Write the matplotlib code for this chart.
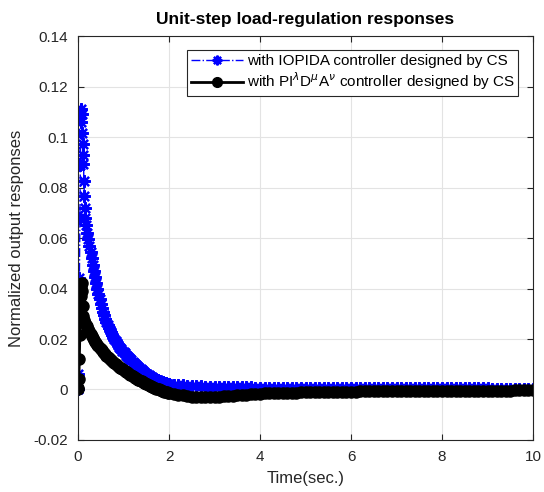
import matplotlib
matplotlib.use('Agg')
import matplotlib.pyplot as plt
import numpy as np

plt.rcParams['font.family'] = ['Liberation Sans', 'DejaVu Sans']
plt.rcParams['mathtext.fontset'] = 'dejavusans'

# ---- IOPIDA response (blue) ----
t_blue_spike = [0, 0.01, 0.02, 0.03, 0.04, 0.05, 0.06, 0.07, 0.08, 0.09,
                0.10, 0.11, 0.12, 0.13, 0.14, 0.15, 0.16, 0.175]
y_blue_spike = [0, 0.0063, 0.022, 0.044, 0.068, 0.089, 0.106, 0.111, 0.109, 0.1017,
                0.0972, 0.0927, 0.0893, 0.0826, 0.0766, 0.0719, 0.068, 0.065]

# samples every 0.025 s from 0.2 to 2.0
y_blue_decay = [0.0620, 0.0595, 0.0570, 0.0545, 0.0520, 0.0494, 0.0469, 0.0444,
                0.0420, 0.0398, 0.0378, 0.0358, 0.0340, 0.0324, 0.0308, 0.0294,
                0.0280, 0.0268, 0.0256, 0.0245, 0.0235, 0.0226, 0.0217, 0.0208,
                0.0200, 0.0192, 0.0184, 0.0177, 0.0170, 0.0164, 0.0159, 0.0153,
                0.0148, 0.0143, 0.0138, 0.0133, 0.0128, 0.0124, 0.0119, 0.0115,
                0.0110, 0.0105, 0.0101, 0.0096, 0.0092, 0.0088, 0.0084, 0.0081,
                0.0077, 0.0073, 0.0070, 0.0066, 0.0063, 0.0060, 0.0057, 0.0054,
                0.0051, 0.0048, 0.0046, 0.0043, 0.0041, 0.0039, 0.0037, 0.0035,
                0.0033, 0.0031, 0.0029, 0.0028, 0.0026, 0.0025, 0.0023, 0.0022,
                0.0020]

# samples every 0.1 s from 2.1 to 10
y_blue_tail = [0.0018, 0.0017, 0.0016, 0.0015, 0.0014, 0.0013, 0.0012, 0.0011, 0.0011, 0.0010,
               0.0010, 0.0009, 0.0009, 0.0009, 0.0008, 0.0008, 0.0008, 0.0008, 0.0007, 0.0007,
               0.0007, 0.0007, 0.0007, 0.0007, 0.0007, 0.0006, 0.0006, 0.0006, 0.0006, 0.0006,
               0.0006, 0.0006, 0.0006, 0.0006, 0.0006, 0.0005, 0.0005, 0.0005, 0.0005, 0.0005,
               0.0005, 0.0005, 0.0005, 0.0005, 0.0005, 0.0005, 0.0005, 0.0005, 0.0005, 0.0005,
               0.0004, 0.0004, 0.0004, 0.0004, 0.0004, 0.0004, 0.0004, 0.0004, 0.0004, 0.0004,
               0.0004, 0.0004, 0.0004, 0.0004, 0.0004, 0.0004, 0.0004, 0.0004, 0.0004, 0.0004,
               0.0003, 0.0003, 0.0003, 0.0003, 0.0003, 0.0003, 0.0003, 0.0003, 0.0003, 0.0003]

# ---- PI^lambda D^mu A^nu response (black) ----
t_black_spike = [0, 0.01, 0.02, 0.03, 0.04, 0.05, 0.06, 0.07, 0.08, 0.09,
                 0.10, 0.12, 0.14, 0.16, 0.18]
y_black_spike = [0, 0.0007, 0.0041, 0.0120, 0.0214, 0.0306, 0.0370, 0.0405, 0.0420, 0.0390,
                 0.0330, 0.0290, 0.0275, 0.0265, 0.0257]

y_black_decay = [0.0250, 0.0240, 0.0230, 0.0221, 0.0212, 0.0204, 0.0197, 0.0190,
                 0.0183, 0.0177, 0.0171, 0.0165, 0.0160, 0.0155, 0.0150, 0.0144,
                 0.0139, 0.0134, 0.0129, 0.0125, 0.0120, 0.0116, 0.0112, 0.0108,
                 0.0104, 0.0100, 0.0097, 0.0093, 0.0090, 0.0087, 0.0084, 0.0080,
                 0.0077, 0.0074, 0.0071, 0.0068, 0.0065, 0.0062, 0.0059, 0.0056,
                 0.0053, 0.0050, 0.0047, 0.0045, 0.0042, 0.0039, 0.0037, 0.0034,
                 0.0032, 0.0029, 0.0027, 0.0024, 0.0022, 0.0020, 0.0017, 0.0015,
                 0.0013, 0.0011, 0.0009, 0.0007, 0.0005, 0.0003, 0.0001, 0.0000,
                 -0.0002, -0.0003, -0.0005, -0.0006, -0.0008, -0.0009, -0.0010, -0.0012,
                 -0.0013]

y_black_tail = [-0.0016, -0.0020, -0.0023, -0.0026, -0.0028, -0.0029, -0.0030, -0.0030, -0.0030, -0.0029,
                -0.0028, -0.0027, -0.0026, -0.0025, -0.0023, -0.0022, -0.0021, -0.0019, -0.0018, -0.0016,
                -0.0015, -0.0015, -0.0014, -0.0014, -0.0013, -0.0013, -0.0012, -0.0012, -0.0011, -0.0011,
                -0.0011, -0.0010, -0.0010, -0.0010, -0.0009, -0.0009, -0.0009, -0.0008, -0.0008, -0.0008,
                -0.0008, -0.0007, -0.0007, -0.0007, -0.0007, -0.0007, -0.0006, -0.0006, -0.0006, -0.0006,
                -0.0006, -0.0006, -0.0006, -0.0006, -0.0006, -0.0005, -0.0005, -0.0005, -0.0005, -0.0005,
                -0.0005, -0.0005, -0.0005, -0.0005, -0.0005, -0.0004, -0.0004, -0.0004, -0.0004, -0.0004,
                -0.0004, -0.0004, -0.0004, -0.0004, -0.0004, -0.0003, -0.0003, -0.0003, -0.0003, -0.0003]

x_ticks = [0, 2, 4, 6, 8, 10]
y_ticks = [-0.02, 0, 0.02, 0.04, 0.06, 0.08, 0.1, 0.12, 0.14]
y_tick_labels = ['-0.02', '0', '0.02', '0.04', '0.06', '0.08', '0.1', '0.12', '0.14']

# sampling grids of the simulation
t_decay = np.round(np.arange(0.2, 2.0001, 0.025), 3)
t_tail = np.round(np.arange(2.1, 10.0001, 0.1), 2)

t_blue = np.concatenate([t_blue_spike, t_decay, t_tail])
y_blue = np.concatenate([y_blue_spike, y_blue_decay, y_blue_tail])
t_black = np.concatenate([t_black_spike, t_decay, t_tail])
y_black = np.concatenate([y_black_spike, y_black_decay, y_black_tail])

fig = plt.figure(figsize=(5.44, 4.92), dpi=100)
ax = fig.add_axes([0.1434, 0.1057, 0.8364, 0.8211])

# matlab style '*' marker = 8-armed asterisk
ax.plot(t_blue, y_blue, color='#0000ff', linestyle='-.', linewidth=1,
        marker=(8, 2, 0), markersize=9, markeredgewidth=1.6,
        label='with IOPIDA controller designed by CS')
ax.plot(t_black, y_black, color='black', linestyle='-', linewidth=2,
        marker='o', markersize=8, markerfacecolor='black',
        label=r'with PI$^{\lambda}$D$^{\mu}$A$^{\nu}$ controller designed by CS')

ax.set_xlim(0, 10)
ax.set_ylim(-0.02, 0.14)
ax.set_xticks(x_ticks)
ax.set_yticks(y_ticks)
ax.set_yticklabels(y_tick_labels)
ax.grid(True, color='#e3e3e3', linewidth=0.8)
ax.set_axisbelow(True)
ax.tick_params(direction='in', length=4, labelsize=11, colors='#262626',
               top=True, right=True, labeltop=False, labelright=False)
ax.tick_params(axis='y', pad=7)
ax.tick_params(axis='x', pad=7)
for s in ax.spines.values():
    s.set_color('#262626')
    s.set_linewidth(0.8)

ax.set_title('Unit-step load-regulation responses', fontsize=12.5, fontweight='bold', pad=9)
ax.set_xlabel('Time(sec.)', fontsize=12, color='#262626', labelpad=5)
ax.set_ylabel('Normalized output responses', fontsize=12, color='#262626', labelpad=7)

leg = ax.legend(loc='upper right', bbox_to_anchor=(0.978, 0.976), fontsize=11,
                frameon=True, fancybox=False, framealpha=1, edgecolor='#262626',
                handlelength=3.4, borderpad=0.25, labelspacing=0.15, handletextpad=0.25,
                borderaxespad=0.3)
leg.get_frame().set_linewidth(0.8)
for h in leg.legend_handles:
    h.set_markersize(7)

fig.savefig('out.png', dpi=100, facecolor='white')
